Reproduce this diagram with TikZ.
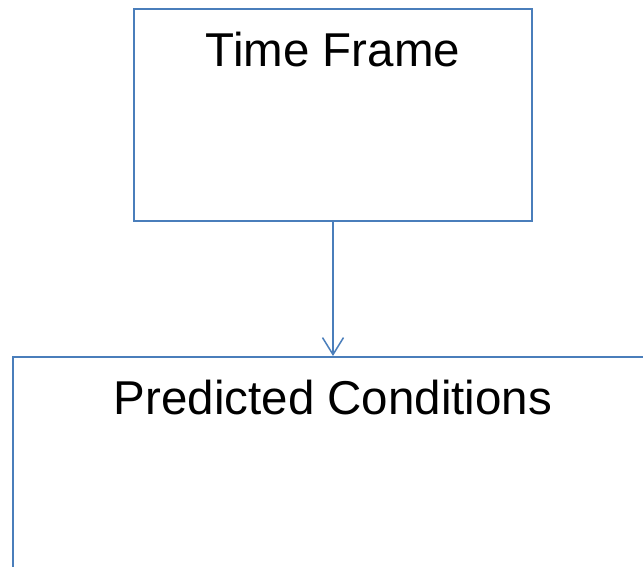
\documentclass[tikz,border=0pt]{standalone}
\usepackage{fontspec}
\setmainfont{Liberation Sans}
\usepackage{tikz}
\usetikzlibrary{arrows.meta,positioning}
\definecolor{boxblue}{HTML}{4A7EBB}
\tikzstyle{frame}=[draw=boxblue,line width=1.5pt,inner sep=0pt]
\tikzstyle{caption}=[inner sep=0pt,font=\fontsize{47.5}{57}\selectfont]

\begin{document}
\begin{tikzpicture}[x=1pt,y=-1pt]
\useasboundingbox (0,0) rectangle (643,566);
\node [frame, minimum width=398pt, minimum height=212pt] (timeframe) at (333,115) {};
\node [caption, below=24pt of timeframe.north] (timetext) {Time Frame};
\node [frame, minimum width=640pt, minimum height=260pt, anchor=north] (predicted) at (333,356) {};
\node [caption, below=24pt of predicted.north] (predtext) {Predicted Conditions};
\draw [boxblue, line width=1.5pt, -{Straight Barb[length=17pt,width=21pt]}] (timeframe.south) -- (predicted.north);
\end{tikzpicture}
\end{document}
